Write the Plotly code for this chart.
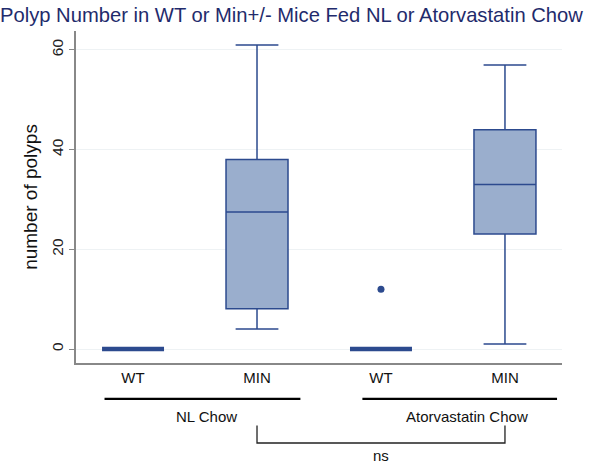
import plotly.graph_objects as go

# ---- data ----
genotypes = ["WT", "MIN", "WT", "MIN"]
diets = ["NL Chow", "Atorvastatin Chow"]
positions = [0, 1, 2, 3]
q1 = [0, 8.1, 0, 23.1]
median = [0, 27.5, 0, 33.0]
q3 = [0, 38.0, 0, 44.0]
lowerfence = [0, 4.0, 0, 1.0]
upperfence = [0, 61.0, 0, 57.0]
outlier_pos = [2]
outlier_val = [12]
y_ticks = [0, 20, 40, 60]

LINE = "#2c4a8e"
FILL = "#9aaecd"
FONT = "Liberation Sans, Arial, sans-serif"

fig = go.Figure()
for i in range(len(positions)):
    flat = q3[i] - q1[i] == 0
    fig.add_trace(go.Box(
        x=[positions[i]], q1=[q1[i]], median=[median[i]], q3=[q3[i]],
        lowerfence=[lowerfence[i]], upperfence=[upperfence[i]],
        width=0.5, whiskerwidth=0.69,
        line=dict(color=LINE, width=4.5 if flat else 1.5),
        fillcolor=FILL, boxpoints=False, showlegend=False,
    ))

fig.add_trace(go.Scatter(
    x=outlier_pos, y=outlier_val, mode="markers",
    marker=dict(color=LINE, size=7), showlegend=False, cliponaxis=False,
))

# group underlines and labels (below plot)
line_y = -0.108
groups = [(-0.23, 1.35, 0.59), (1.85, 3.42, 2.69)]
for (x0, x1, xc), name in zip(groups, diets):
    fig.add_shape(type="line", xref="x", yref="paper", x0=x0, x1=x1,
                  y0=line_y, y1=line_y, line=dict(color="black", width=2.2))
    fig.add_annotation(x=xc, y=-0.16, xref="x", yref="paper", text=name,
                       showarrow=False, font=dict(size=15, color="#111", family=FONT),
                       yanchor="middle")

# significance bracket between the MIN groups
b_top, b_bot = -0.188, -0.241
fig.add_shape(type="path", xref="x", yref="paper",
              path=f"M 1,{b_top} L 1,{b_bot} L 3,{b_bot} L 3,{b_top}",
              line=dict(color="#222", width=1.3))
fig.add_annotation(x=2, y=-0.279, xref="x", yref="paper", text="ns",
                   showarrow=False, font=dict(size=15, color="#111", family=FONT),
                   yanchor="middle")

fig.update_layout(
    width=600, height=464,
    margin=dict(l=76, r=38, t=31, b=101, autoexpand=False),
    paper_bgcolor="white", plot_bgcolor="white",
    title=dict(text="Polyp Number in WT or Min+/- Mice Fed NL or Atorvastatin Chow",
               x=0.0, xanchor="left", xref="container",
               y=1 - 15 / 464, yref="container", yanchor="middle",
               font=dict(size=20.2, color="#1f2b6c", family=FONT)),
    font=dict(family=FONT),
)
fig.update_xaxes(range=[-0.46, 3.46], tickvals=positions, ticktext=genotypes,
                 showline=True, linecolor="#888", linewidth=1.5, showgrid=False,
                 zeroline=False, ticks="", tickfont=dict(size=15, color="#111"))
fig.update_yaxes(range=[-2.8, 63.8], tickvals=y_ticks, tickangle=-90,
                 showline=True, linecolor="#888", linewidth=1.5,
                 showgrid=True, gridcolor="#eef2f4", gridwidth=1, zeroline=False,
                 ticks="outside", ticklen=5, tickcolor="#888",
                 tickfont=dict(size=15.5, color="#222"),
                 title=dict(text="number of polyps", font=dict(size=19, color="#111"),
                            standoff=6))

fig.write_html("out.html", config={"displayModeBar": False},
               post_script="document.body.style.margin='0px';")
